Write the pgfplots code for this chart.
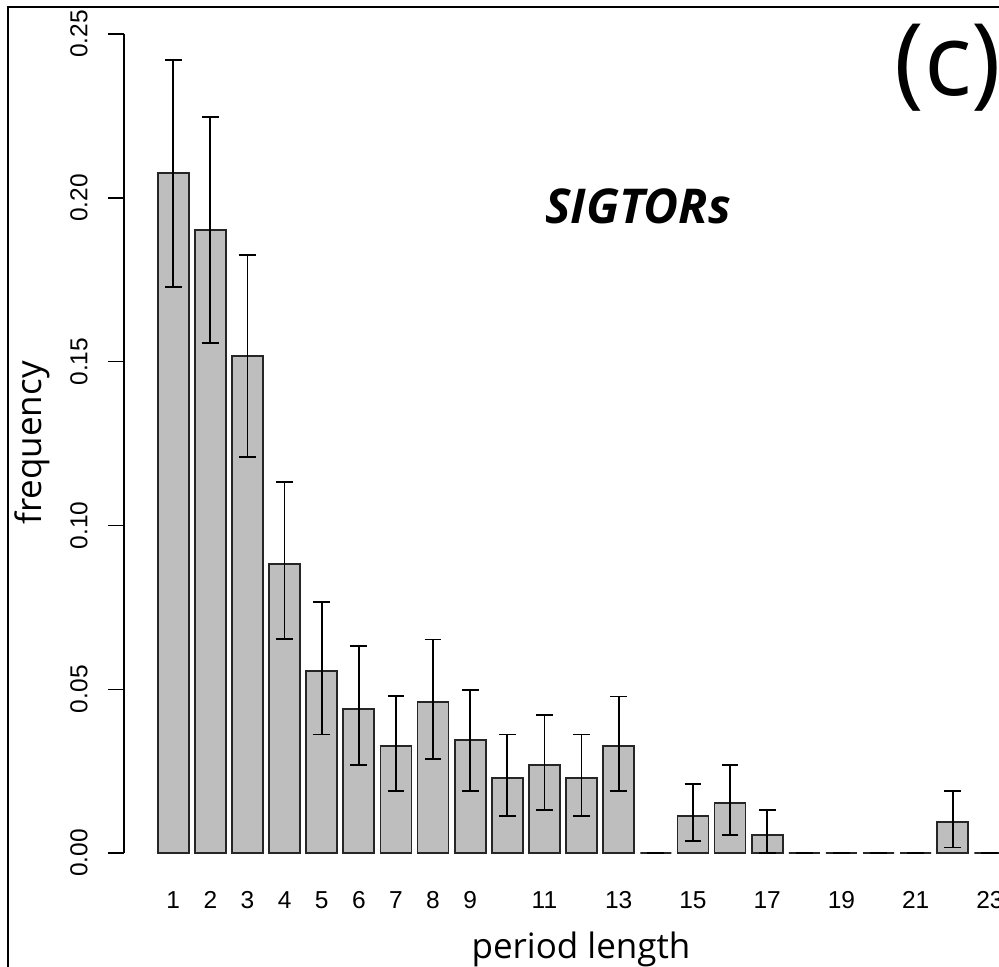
\documentclass[border=0pt]{standalone}
\usepackage{pgfplots}
\pgfplotsset{compat=1.18}
\usepackage{pgfplotstable}
\usepackage{fontspec}
\setmainfont{Liberation Sans}
\newfontfamily\labfont{Open Sans}
\definecolor{bargray}{HTML}{BEBEBE}

% period length, frequency, lower and upper end of the error bar
\pgfplotstableread{
x  y      lo     hi
1  0.2076 0.1728 0.2421
2  0.1902 0.1557 0.2247
3  0.1517 0.1210 0.1825
4  0.0882 0.0653 0.1132
5  0.0556 0.0362 0.0767
6  0.0440 0.0268 0.0633
7  0.0327 0.0190 0.0479
8  0.0460 0.0287 0.0652
9  0.0345 0.0190 0.0498
10 0.0228 0.0113 0.0362
11 0.0268 0.0131 0.0421
12 0.0228 0.0113 0.0362
13 0.0326 0.0190 0.0478
14 0      0      0
15 0.0113 0.0037 0.0210
16 0.0152 0.0055 0.0268
17 0.0055 0      0.0131
18 0      0      0
19 0      0      0
20 0      0      0
21 0      0      0
22 0.0094 0.0017 0.0189
23 0      0      0
}\sigtors

\begin{document}
% 1 unit = one pixel of the 999x966 image, y measured from the bottom
\begin{tikzpicture}[x=0.5pt, y=0.5pt]
\useasboundingbox (0,0) rectangle (999,966);
\clip (0,0) rectangle (999,966);

\begin{axis}[
    at={(62pt,56.5pt)}, anchor=south west,
    scale only axis,
    width=457.25pt, height=409.5pt,
    xmin=-0.3254, xmax=24.31,
    ymin=0, ymax=0.25,
    axis y line*=left,
    axis x line*=bottom,
    x axis line style={draw=none},
    y axis line style={line width=0.7pt},
    clip=false,
    tick align=outside,
    major tick length=8pt,
    ytick={0,0.05,0.10,0.15,0.20,0.25},
    yticklabels={0.00,0.05,0.10,0.15,0.20,0.25},
    ytick style={line width=0.7pt, black},
    yticklabel shift=10pt,
    yticklabel style={rotate=90, anchor=south, inner sep=0pt, font=\fontsize{12.25}{14}\selectfont},
    xtick={1,2,3,4,5,6,7,8,9,11,13,15,17,19,21,23},
    xticklabels={1,2,3,4,5,6,7,8,9,11,13,15,17,19,21,23},
    xtick style={draw=none},
    xticklabel shift=11pt,
    xticklabel style={anchor=north, inner sep=0pt, font=\fontsize{12.25}{14}\selectfont},
]
\addplot[ybar, bar width=15.5pt, bar shift=0pt, fill=bargray, draw=black!85, line width=0.9pt,
    error bars/.cd, y dir=both, y explicit,
    error bar style={line width=0.9pt, black},
    error mark options={rotate=90, line width=0.9pt, black, mark size=4.2pt}]
    table[x=x, y=y,
          y error plus expr=\thisrow{hi}-\thisrow{y},
          y error minus expr=\thisrow{y}-\thisrow{lo}] {\sigtors};
\end{axis}

% outer frame
\draw[line width=1pt] (8,-40) -- (8,959) -- (1100,959);

\node[rotate=90, anchor=base, font=\labfont\fontsize{17.5}{20}\selectfont] at (41.7,523) {frequency};
\node[anchor=base, font=\labfont\fontsize{17.5}{20}\selectfont] at (581,7.7) {period length};
\node[font=\labfont\bfseries\itshape\fontsize{24}{28}\selectfont] at (638,760) {SIGTORs};
\node[font=\labfont\fontsize{50}{58}\selectfont] at (948,898) {(c)};
\end{tikzpicture}
\end{document}
